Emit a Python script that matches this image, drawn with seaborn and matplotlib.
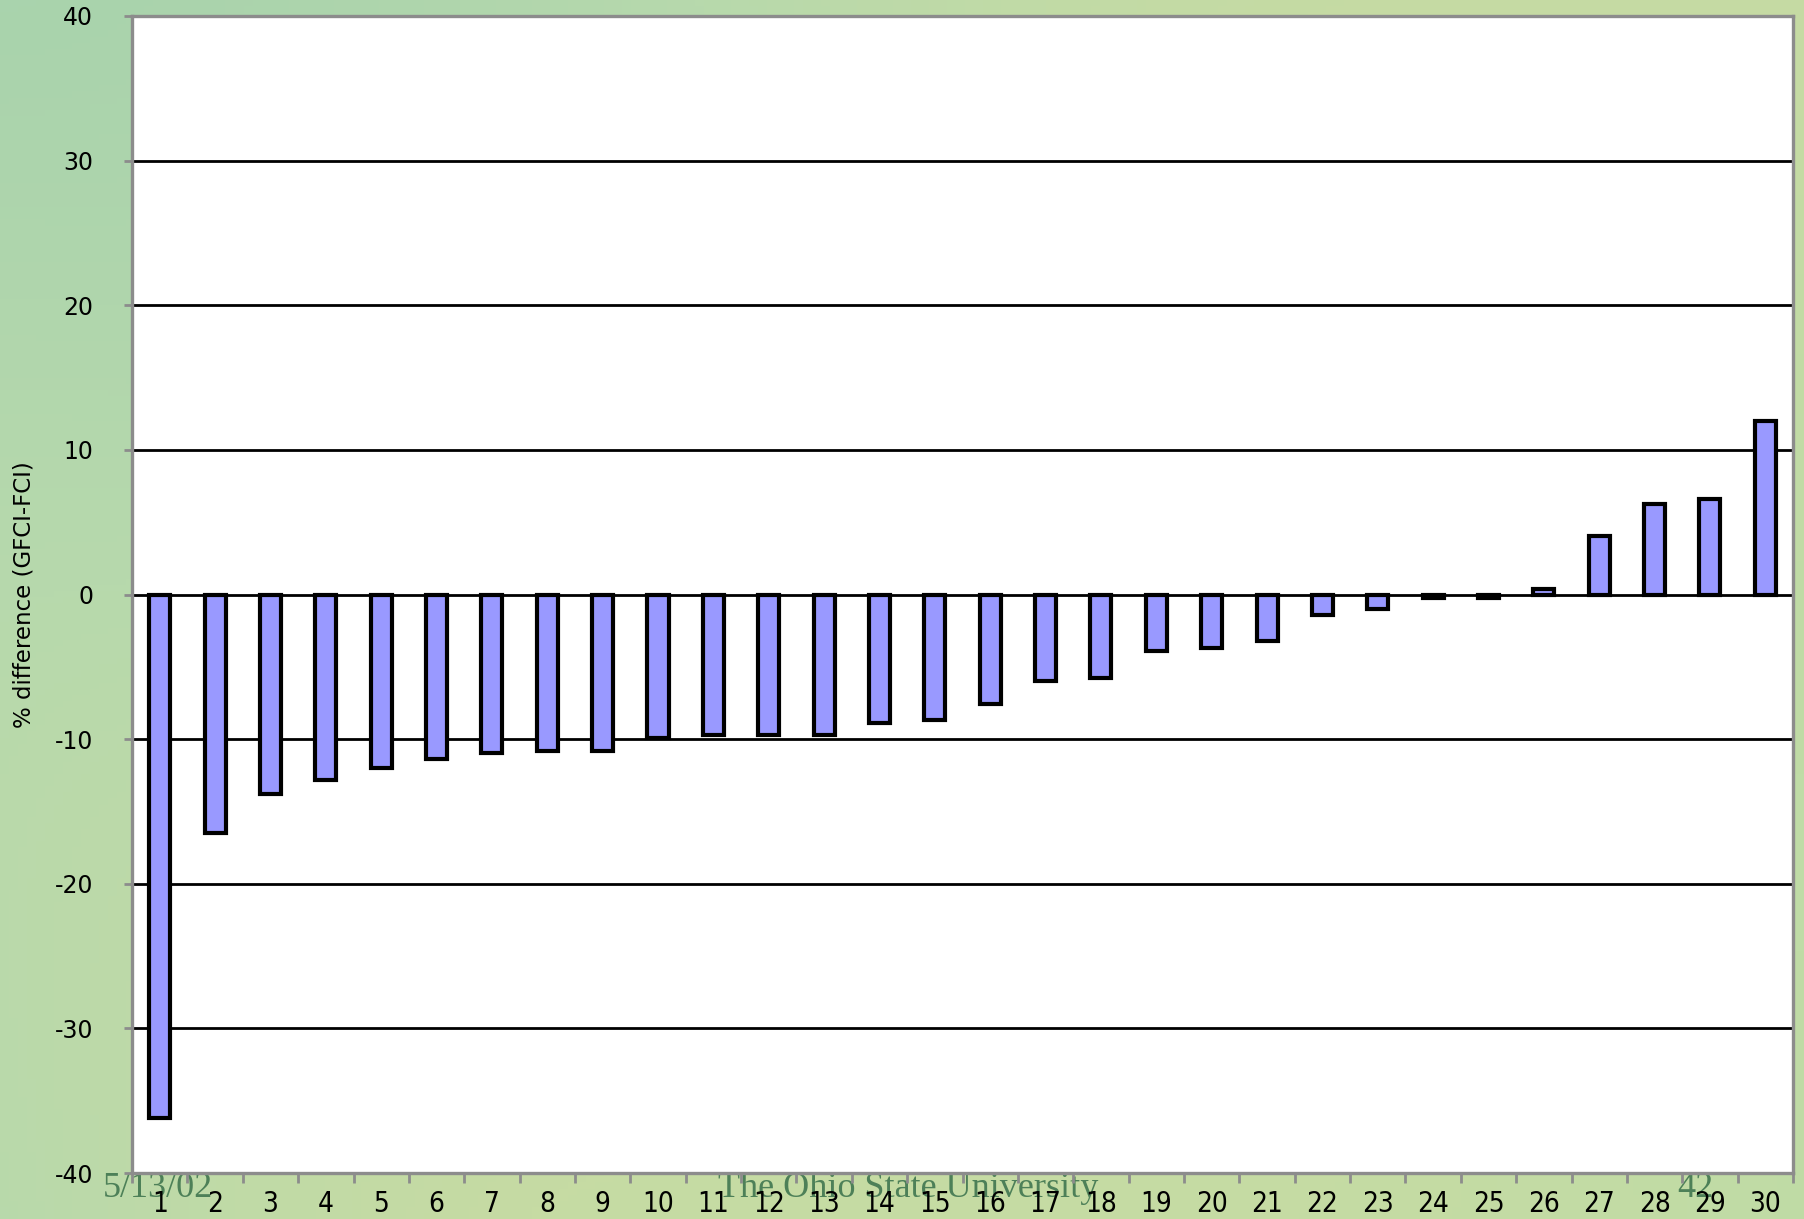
import numpy as np
import pandas as pd
import matplotlib
matplotlib.use("Agg")
import matplotlib.pyplot as plt
from matplotlib.colors import LinearSegmentedColormap
import seaborn as sns

# Percent difference per site, sorted from most negative to most positive
sites = [str(i) for i in range(1, 31)]
pct_diff = [-36.2, -16.5, -13.8, -12.85, -12.0, -11.4, -10.95, -10.8, -10.8, -9.9,
            -9.7, -9.7, -9.7, -8.9, -8.7, -7.6, -6.0, -5.8, -3.9, -3.7,
            -3.2, -1.4, -1.0, -0.25, -0.25, 0.4, 4.05, 6.25, 6.6, 12.0]
y_ticks = [-40, -30, -20, -10, 0, 10, 20, 30, 40]
y_label = "% difference (GFCI-FCI)"
footer_date = "5/13/02"
footer_org = "The Ohio State University"
footer_page = "42"

sns.set_theme(style="white")
plt.rcParams["font.family"] = ["DejaVu Sans"]

df = pd.DataFrame({"site": sites, "diff": pct_diff})

fig = plt.figure(figsize=(18.04, 12.19), dpi=100)

# Soft green slide background
bg = fig.add_axes([0, 0, 1, 1], zorder=-10)
gx, gy = np.meshgrid(np.linspace(0, 1, 200), np.linspace(0, 1, 200))
field = 0.55 * gx + 0.25 * (1 - gy) + 0.1 * np.sin(6 * gx + 4 * gy)
cmap = LinearSegmentedColormap.from_list(
    "slide", ["#a9d3ad", "#b7d9ac", "#c6dba3", "#bfdca6"])
bg.imshow(field, cmap=cmap, aspect="auto", extent=[0, 1, 0, 1], origin="lower")
bg.set_axis_off()

ax = fig.add_axes([0.0732, 0.0377, 0.9207, 0.9492])
ax.set_facecolor("white")

sns.barplot(data=df, x="site", y="diff", color="#9999FF", saturation=1,
            edgecolor="black", linewidth=3.0, width=0.38, ax=ax, zorder=3)

ax.set_xlim(-0.5, len(sites) - 0.5)
ax.set_ylim(-40, 40)
ax.set_yticks(y_ticks)
ax.set_yticklabels([str(t) for t in y_ticks])

# Horizontal gridlines in black
for t in y_ticks[1:-1]:
    ax.axhline(t, color="black", lw=2.0, zorder=2)

for side in ["left", "bottom", "right", "top"]:
    ax.spines[side].set_visible(True)
    ax.spines[side].set_color("#8c8c8c")
    ax.spines[side].set_linewidth(2.4)

# Category labels centred, tick marks at category boundaries
ax.set_xticks(range(len(sites)))
ax.set_xticklabels(sites, fontstretch="condensed")
ax.set_xticks(np.arange(-0.5, len(sites), 1.0), minor=True)
ax.tick_params(axis="x", which="major", length=0, pad=12, labelsize=20,
               labelcolor="black")
ax.tick_params(axis="x", which="minor", length=7, width=2, color="#8c8c8c",
               direction="out", bottom=True)
ax.tick_params(axis="y", which="major", length=6, width=2, color="#8c8c8c",
               direction="out", left=True, pad=22, labelsize=17,
               labelcolor="black")

ax.set_xlabel("")
ax.set_ylabel(y_label, fontsize=16.5, color="black")
ax.yaxis.set_label_coords(-0.058, 0.5)

footer_kw = dict(family="Liberation Serif", fontsize=26, color="#4d8058",
                 va="baseline", ha="center", zorder=-5)
fig.text(158 / 1804, 1 - 1197 / 1219, footer_date, **footer_kw)
fig.text(908 / 1804, 1 - 1197 / 1219, footer_org, **footer_kw)
fig.text(1695 / 1804, 1 - 1197 / 1219, footer_page, **footer_kw)

fig.savefig("out.png", dpi=100)
